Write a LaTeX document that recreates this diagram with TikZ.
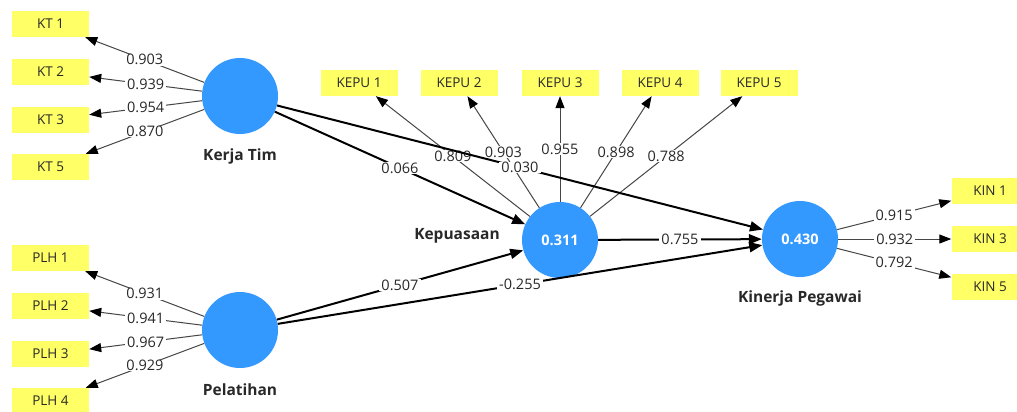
\documentclass[tikz,border=0pt]{standalone}
\usepackage{fontspec}
\setmainfont{Open Sans}
\usetikzlibrary{arrows.meta}
\definecolor{lvblue}{RGB}{51,153,255}
\definecolor{indyellow}{RGB}{255,255,102}
\definecolor{indline}{RGB}{70,70,70}
\definecolor{txt}{RGB}{40,40,40}
\begin{document}
\begin{tikzpicture}[x=1pt,y=-1pt,
 latent/.style={circle,fill=lvblue,minimum size=76pt,inner sep=0pt,text=white,font=\fontsize{14.5}{16}\selectfont\bfseries},
 indbox/.style={rectangle,fill=indyellow,minimum width=77pt,minimum height=26pt,inner sep=0pt,text=txt,font=\fontsize{13.5}{15}\selectfont},
 lvname/.style={text=txt,font=\fontsize{15.5}{17}\selectfont\bfseries},
 loadarrow/.style={draw=indline,line width=1pt,-{Triangle[length=12pt,width=9pt,color=black]}},
 patharrow/.style={draw=black,line width=2pt,-{Triangle[length=13pt,width=10pt]}},
 coef/.style={fill=white,inner xsep=2pt,inner ysep=0.5pt,text=txt,font=\fontsize{14.5}{16}\selectfont,pos=0.5}
]
\clip (0,0) rectangle (1017,412);
\fill[white] (0,0) rectangle (1017,412);

% latent variables
\node[latent] (kt) at (240,96) {};
\node[lvname] (ktname) at (240,156) {Kerja Tim};
\node[latent] (plh) at (240,330) {};
\node[lvname] (plhname) at (240,390) {Pelatihan};
\node[latent] (kepu) at (560,240) {0.311};
\node[lvname] (kepuname) at (457,236) {Kepuasaan};
\node[latent] (kin) at (800,239) {0.430};
\node[lvname] (kinname) at (800,298) {Kinerja Pegawai};

% indicators
\node[indbox] (kt1) at (50.5,24) {KT 1};
\node[indbox] (kt2) at (50.5,72) {KT 2};
\node[indbox] (kt3) at (50.5,119.5) {KT 3};
\node[indbox] (kt5) at (50.5,167) {KT 5};
\node[indbox] (plh1) at (50.5,258) {PLH 1};
\node[indbox] (plh2) at (50.5,306) {PLH 2};
\node[indbox] (plh3) at (50.5,354) {PLH 3};
\node[indbox] (plh4) at (50.5,401) {PLH 4};
\node[indbox] (kepu1) at (359,83) {KEPU 1};
\node[indbox] (kepu2) at (459,83) {KEPU 2};
\node[indbox] (kepu3) at (560,83) {KEPU 3};
\node[indbox] (kepu4) at (660,83) {KEPU 4};
\node[indbox] (kepu5) at (759,83) {KEPU 5};
\node[indbox] (kin1) at (990,191) {KIN 1};
\node[indbox] (kin3) at (990,239) {KIN 3};
\node[indbox] (kin5) at (990,287) {KIN 5};

% loadings
\draw[loadarrow] (kt) -- node[coef]{0.903} (kt1);
\draw[loadarrow] (kt) -- node[coef]{0.939} (kt2);
\draw[loadarrow] (kt) -- node[coef]{0.954} (kt3);
\draw[loadarrow] (kt) -- node[coef]{0.870} (kt5);
\draw[loadarrow] (plh) -- node[coef]{0.931} (plh1);
\draw[loadarrow] (plh) -- node[coef]{0.941} (plh2);
\draw[loadarrow] (plh) -- node[coef]{0.967} (plh3);
\draw[loadarrow] (plh) -- node[coef]{0.929} (plh4);
\draw[loadarrow] (kepu) -- node[coef]{0.809} (kepu1);
\draw[loadarrow] (kepu) -- node[coef]{0.903} (kepu2);
\draw[loadarrow] (kepu) -- node[coef]{0.955} (kepu3);
\draw[loadarrow] (kepu) -- node[coef]{0.898} (kepu4);
\draw[loadarrow] (kepu) -- node[coef]{0.788} (kepu5);
\draw[loadarrow] (kin) -- node[coef]{0.915} (kin1);
\draw[loadarrow] (kin) -- node[coef]{0.932} (kin3);
\draw[loadarrow] (kin) -- node[coef]{0.792} (kin5);

% paths
\draw[patharrow] (kt) -- node[coef]{0.066} (kepu);
\draw[patharrow] (kt) -- node[coef]{0.030} (kin);
\draw[patharrow] (plh) -- node[coef]{0.507} (kepu);
\draw[patharrow] (plh) -- node[coef]{-0.255} (kin);
\draw[patharrow] (kepu) -- node[coef]{0.755} (kin);
\end{tikzpicture}
\end{document}
